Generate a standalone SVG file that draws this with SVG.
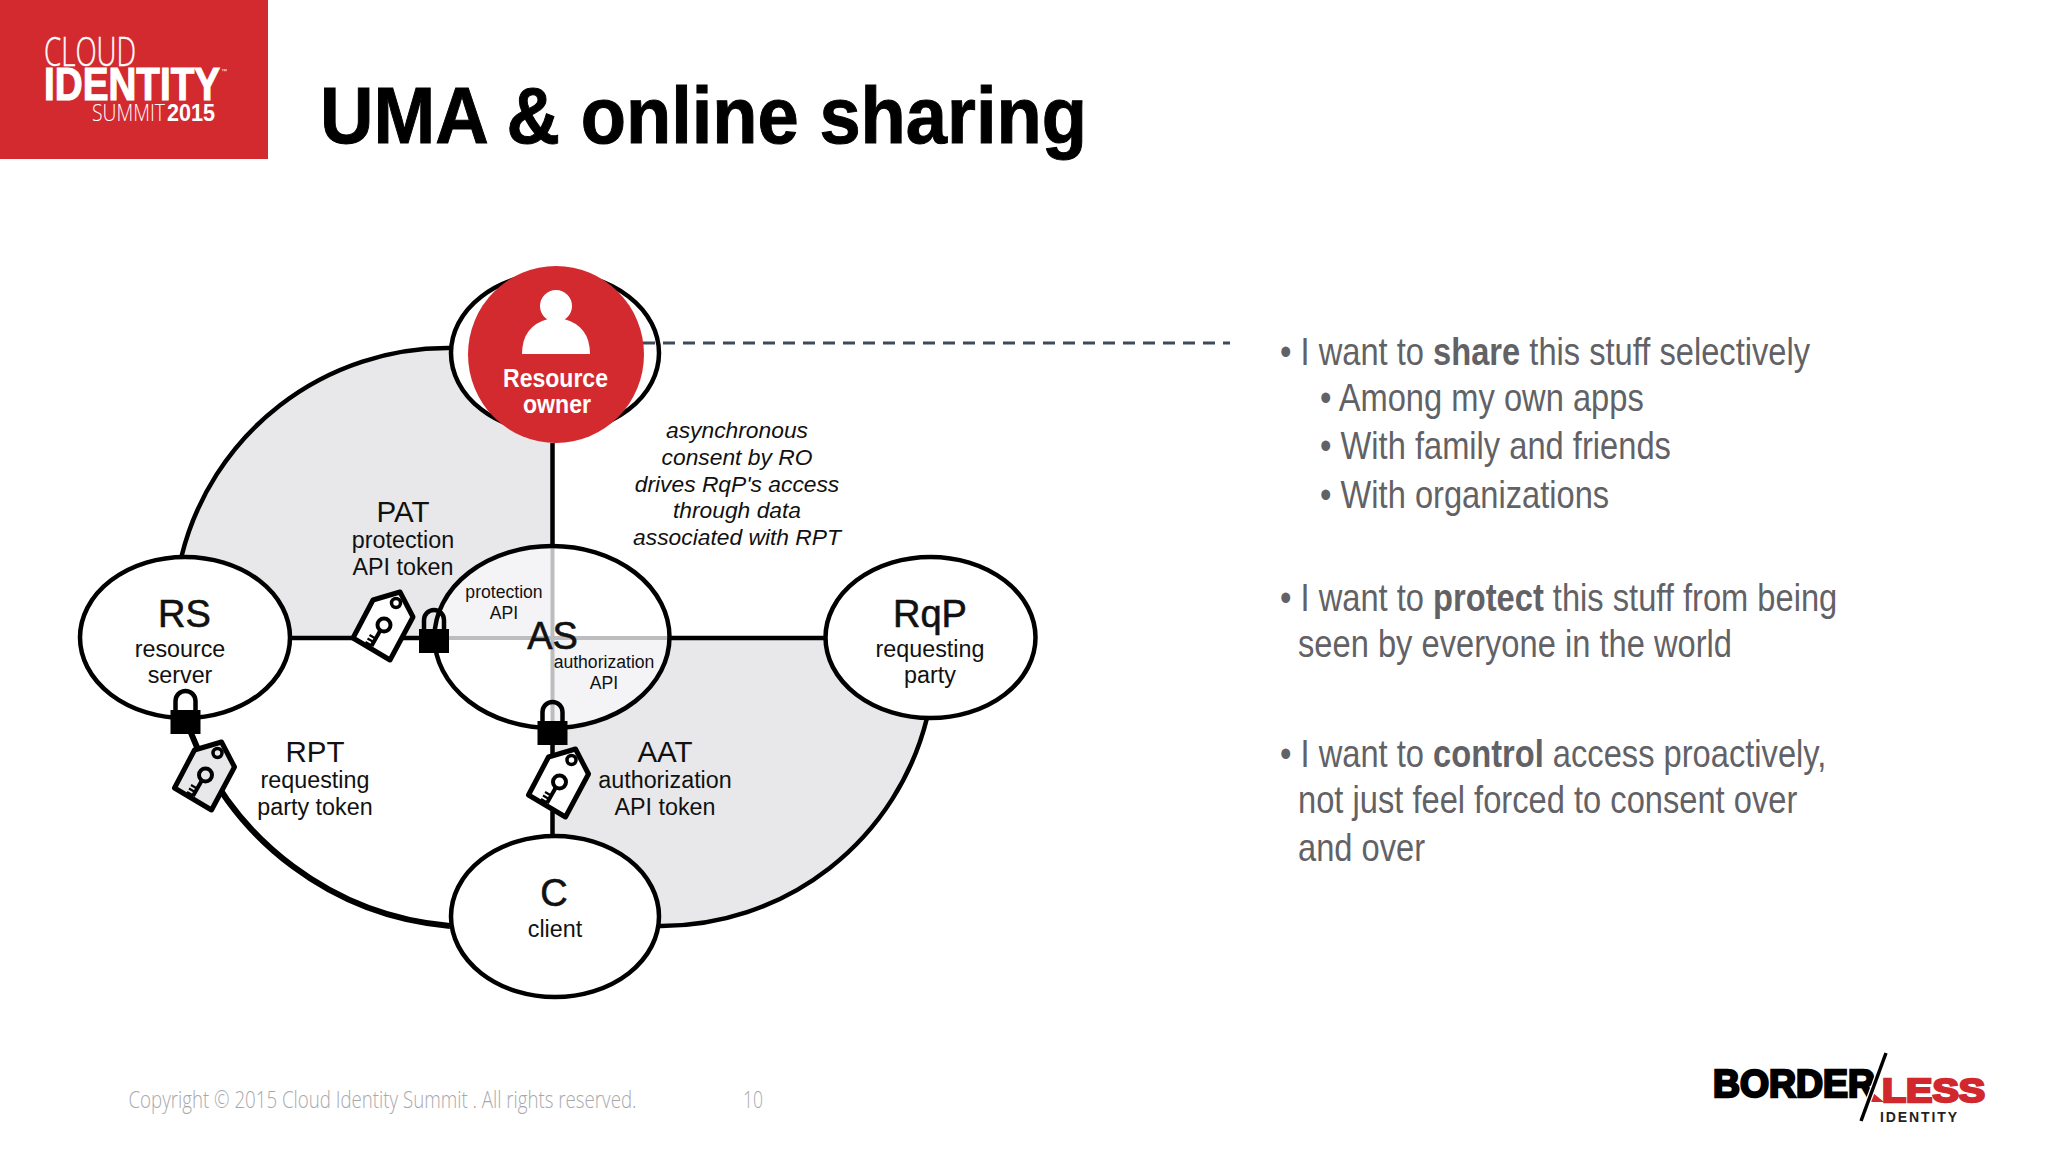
<svg xmlns="http://www.w3.org/2000/svg" xmlns:xlink="http://www.w3.org/1999/xlink" width="2048" height="1152" viewBox="0 0 2048 1152">
<style>
text{font-family:"Liberation Sans",Arial,sans-serif;fill:#111}
.big{font-size:38px;text-anchor:middle;stroke:#111;stroke-width:.6}
.mid{font-size:29.500px;text-anchor:middle}
.sm{font-size:23.300px;text-anchor:middle}
.xs{font-size:17.600px;text-anchor:middle}
.it{font-size:22.800px;font-style:italic;text-anchor:middle}
.ro{font-size:26px;font-weight:bold;fill:#fff;text-anchor:middle}
.b{font-size:38px;fill:#626266}
.b tspan.h{font-weight:bold}
.f{font-family:"Open Sans",sans-serif;font-weight:300;font-size:24px;fill:#a8a8ac}
.n{fill:#fff;stroke:#000;stroke-width:4.5}
.c{fill:none;stroke:#000;stroke-width:4.5}
.t{stroke:#000;stroke-width:5;stroke-linejoin:round}
.k{fill:none;stroke:#000}
</style>
<defs>
<g id="lock">
<path d="M-10 0V-14A10 10 0 0 1 10 -14V0" fill="none" stroke="#000" stroke-width="4.5"/>
<rect x="-15" y="-5" width="30" height="24" fill="#000"/>
</g>
<g id="tag">
<path class="k" stroke-width="4" d="M-2.500 5L-11 20"/>
<circle class="k" stroke-width="4" cx="1.500" cy="-1" r="6.500"/>
<circle class="k" stroke-width="3.500" cx="13.500" cy="-23" r="4.500"/>
<path class="k" stroke-width="2.200" d="M-7 12.500l-6 -3.500M-9 16l-6 -3.500M-11 19.500l-6 -3.500"/>
</g>
</defs>
<rect width="2048" height="1152" fill="#fff"/>

<g id="slide-logo">
<rect width="268" height="159" fill="#d32a30"/>
<text x="44" y="66" font-size="40" textLength="92" lengthAdjust="spacingAndGlyphs" style="font-family:'Open Sans',sans-serif;font-weight:300;fill:#fff;stroke:#fff;stroke-width:.4">CLOUD</text>
<text x="44" y="100" font-size="46" font-weight="bold" textLength="176" lengthAdjust="spacingAndGlyphs" style="fill:#fff;stroke:#fff;stroke-width:1.200">IDENTITY</text>
<text x="221" y="73" font-size="6" style="fill:#fff">™</text>
<text x="92" y="121" font-size="23" textLength="73" lengthAdjust="spacingAndGlyphs" style="font-family:'Open Sans',sans-serif;font-weight:300;fill:#fff">SUMMIT</text>
<text x="167" y="121" font-size="23" font-weight="bold" textLength="48" lengthAdjust="spacingAndGlyphs" style="fill:#fff">2015</text>
</g>
<text id="title" x="320" y="143" font-size="80" font-weight="bold" textLength="767" lengthAdjust="spacingAndGlyphs" style="fill:#000;stroke:#000;stroke-width:1">UMA &amp; online sharing</text>

<g id="quadrants">
<path fill="#e8e8ea" d="M181.600 638V556A274 274 0 0 1 450 348H552.500V638Z"/>
<path fill="#e8e8ea" d="M552.500 638H927V718A274 274 0 0 1 660 926H552.500Z"/>
</g>

<g id="connectors">
<path class="c" d="M181.600 556A274 274 0 0 1 450 348"/>
<path class="c" d="M927 718A274 274 0 0 1 660 926"/>
<path class="c" style="stroke-width:6" d="M450 926A306 306 0 0 1 191 733"/>
<path class="c" d="M552.500 443V546M552.500 728V836M291 638H434M670 638H825"/>
</g>

<g id="node-RS">
<ellipse class="n" cx="185" cy="637.500" rx="105" ry="80.500"/>
<text class="big" x="184.500" y="627">RS</text>
<text class="sm" x="180" y="657">resource</text>
<text class="sm" x="180" y="683">server</text>
</g>
<g id="node-AS">
<ellipse cx="552" cy="637" rx="117.500" ry="91" fill="#fff"/>
<path fill="#f4f4f6" d="M552.500 638H434.500A117.500 91 0 0 1 552.500 546Z"/>
<path fill="#f4f4f6" d="M552.500 638H669.500A117.500 91 0 0 1 552.500 728Z"/>
<path d="M436 638H668M552.500 548V726" stroke="#bdbdbf" stroke-width="4" fill="none"/>
<ellipse class="n" style="fill:none" cx="552" cy="637" rx="117.500" ry="91"/>
<text class="big" x="552.500" y="649">AS</text>
<text class="xs" x="504" y="598">protection</text>
<text class="xs" x="504" y="619">API</text>
<text class="xs" x="604" y="668">authorization</text>
<text class="xs" x="604" y="689">API</text>
</g>
<g id="node-RqP">
<ellipse class="n" cx="930.500" cy="637.500" rx="105" ry="80.500"/>
<text class="big" x="930" y="627">RqP</text>
<text class="sm" x="930" y="657">requesting</text>
<text class="sm" x="930" y="683">party</text>
</g>
<g id="node-C">
<ellipse class="n" cx="555" cy="916.500" rx="104" ry="80.500"/>
<text class="big" x="554" y="906">C</text>
<text class="sm" x="555" y="937">client</text>
</g>
<g id="node-RO">
<ellipse class="n" cx="555" cy="353" rx="104" ry="80"/>
<ellipse cx="556" cy="354.500" rx="88" ry="88.500" fill="#d32a30"/>
<circle cx="556" cy="306" r="16" fill="#fff"/>
<path fill="#fff" d="M522 354Q522 326 548 319L564 319Q590 326 590 354Z"/>
<text class="ro" x="555.500" y="387" textLength="105" lengthAdjust="spacingAndGlyphs">Resource</text>
<text class="ro" x="557" y="413" textLength="68" lengthAdjust="spacingAndGlyphs">owner</text>
</g>
<path id="dashed" d="M643 343H1230" fill="none" stroke="#3d4a5c" stroke-width="3" stroke-dasharray="12 8"/>

<g id="lock-AS-left"><use xlink:href="#lock" href="#lock" transform="translate(434 634)"/></g>
<g id="lock-RS"><use xlink:href="#lock" href="#lock" transform="translate(185.500 715)"/></g>
<g id="lock-AS-bottom"><use xlink:href="#lock" href="#lock" transform="translate(552.500 726)"/></g>

<g id="token-PAT" transform="translate(382.500 626)">
<path class="t" fill="#fff" d="M-29.500 12L-9.500 -26L17.500 -34L30.500 -9L7.500 34Z"/>
<use xlink:href="#tag" href="#tag"/>
</g>
<g id="token-RPT" transform="translate(204 776)">
<path class="t" fill="#e8e8ea" d="M-29.500 12L-9.500 -26L17.500 -34L30.500 -9L7.500 34Z"/>
<use xlink:href="#tag" href="#tag"/>
</g>
<g id="token-AAT" transform="translate(558 783)">
<path class="t" fill="#fff" d="M-29.500 12L-9.500 -26L17.500 -34L30.500 -9L7.500 34Z"/>
<use xlink:href="#tag" href="#tag"/>
</g>

<g id="labels">
<text class="mid" x="403" y="522">PAT</text>
<text class="sm" x="403" y="548">protection</text>
<text class="sm" x="403" y="575">API token</text>
<text class="mid" x="315" y="762">RPT</text>
<text class="sm" x="315" y="788">requesting</text>
<text class="sm" x="315" y="815">party token</text>
<text class="mid" x="665" y="762">AAT</text>
<text class="sm" x="665" y="788">authorization</text>
<text class="sm" x="665" y="815">API token</text>
<text class="it" x="737" y="438">asynchronous</text>
<text class="it" x="737" y="465">consent by RO</text>
<text class="it" x="737" y="492">drives RqP's access</text>
<text class="it" x="737" y="518">through data</text>
<text class="it" x="737" y="545">associated with RPT</text>
</g>

<g id="bullets">
<text class="b" transform="translate(1280 365) scale(.86 1)">• I want to <tspan class="h">share</tspan> this stuff selectively</text>
<text class="b" transform="translate(1320 411) scale(.86 1)">• Among my own apps</text>
<text class="b" transform="translate(1320 459) scale(.86 1)">• With family and friends</text>
<text class="b" transform="translate(1320 508) scale(.86 1)">• With organizations</text>
<text class="b" transform="translate(1280 611) scale(.86 1)">• I want to <tspan class="h">protect</tspan> this stuff from being</text>
<text class="b" transform="translate(1298 657) scale(.86 1)">seen by everyone in the world</text>
<text class="b" transform="translate(1280 767) scale(.86 1)">• I want to <tspan class="h">control</tspan> access proactively,</text>
<text class="b" transform="translate(1298 813) scale(.86 1)">not just feel forced to consent over</text>
<text class="b" transform="translate(1298 861) scale(.86 1)">and over</text>
</g>

<g id="footer">
<text class="f" x="128.500" y="1108" textLength="508" lengthAdjust="spacingAndGlyphs">Copyright © 2015 Cloud Identity Summit . All rights reserved.</text>
<text class="f" x="743" y="1108" textLength="20" lengthAdjust="spacingAndGlyphs">10</text>
</g>

<g id="borderless-logo">
<text x="1713" y="1097" font-size="38" font-weight="bold" textLength="162" lengthAdjust="spacingAndGlyphs" style="fill:#000;stroke:#000;stroke-width:2.500">BORDER</text>
<text x="1882" y="1102" font-size="34" font-weight="bold" textLength="103" lengthAdjust="spacingAndGlyphs" style="fill:#d1282e;stroke:#d1282e;stroke-width:2.500">LESS</text>
<path d="M1872 1092L1884 1102H1868Z" fill="#d1282e"/>
<path d="M1886 1053L1861 1121" stroke="#fff" stroke-width="6" fill="none"/>
<path d="M1886 1053L1861 1121" stroke="#000" stroke-width="3.500" fill="none"/>
<text x="1880" y="1122" font-size="14" font-weight="bold" textLength="77" style="fill:#222">IDENTITY</text>
</g>
</svg>
